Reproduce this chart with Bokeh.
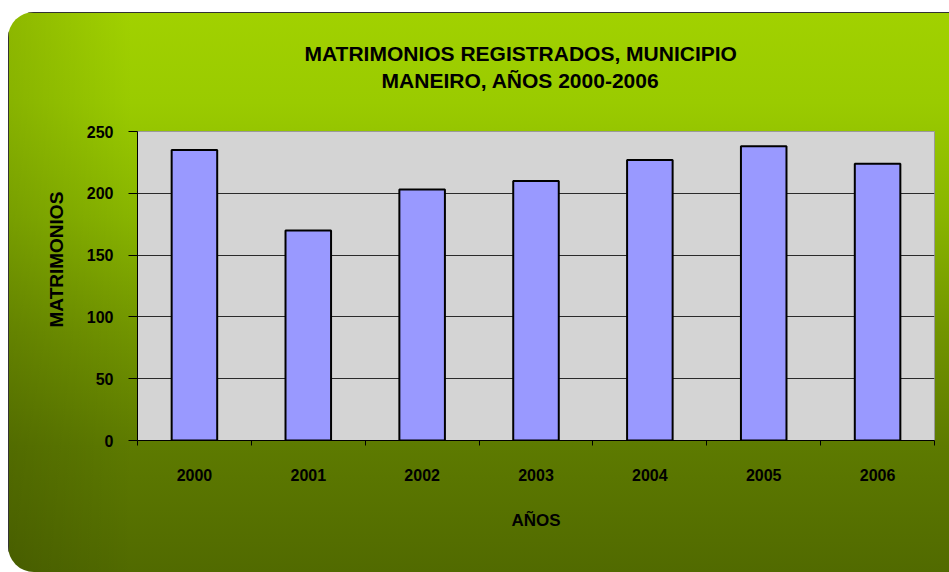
from bokeh.plotting import figure
from bokeh.models import Range1d, FixedTicker, Title, ColumnDataSource, LinearAxis
from bokeh.embed import file_html
from bokeh.resources import INLINE

# ---- data ----
years = ["2000", "2001", "2002", "2003", "2004", "2005", "2006"]
matrimonios = [235, 170, 203, 210, 227, 238, 224]
y_ticks = [0, 50, 100, 150, 200, 250]
title_lines = ["MATRIMONIOS REGISTRADOS, MUNICIPIO", "MANEIRO, AÑOS 2000-2006"]
x_title = "AÑOS"
y_title = "MATRIMONIOS"

n = len(years)
centers = [i + 0.5 for i in range(n)]
bounds = [float(i) for i in range(n + 1)]

p = figure(width=949, height=572, output_backend="svg", toolbar_location=None,
           x_range=Range1d(0, n), y_range=Range1d(0, 250),
           min_border_left=137, min_border_right=15, min_border_top=131, min_border_bottom=132)
p.title.visible = False

p.styles = {
    "background": (
        "linear-gradient(to right, #333 0px, #333 9px, rgba(0,0,0,0) 9px), "
        "linear-gradient(to bottom, #333 0px, #333 13px, rgba(0,0,0,0) 13px), "
        "linear-gradient(to right, rgba(0,0,0,0.13) 0%, rgba(0,0,0,0) 14%), "
        "linear-gradient(to bottom, #a2d200 0%, #9acb00 18%, #88b400 38%, #719400 58%, #5d7a00 78%, #516a00 100%)"
    ),
    "clip-path": "inset(12px 0px 0px 8px round 26px 0px 0px 26px)",
}
p.border_fill_color = None
p.background_fill_color = "#d4d4d4"
p.outline_line_color = "#9a9a9a"
p.outline_line_width = 1

src = ColumnDataSource(dict(x=centers, top=matrimonios, year=years))
p.vbar(x="x", top="top", width=0.4, bottom=0, source=src,
       fill_color="#9999ff", line_color="black", line_width=2)

# grid
p.xgrid.visible = False
p.ygrid.ticker = FixedTicker(ticks=y_ticks)
p.ygrid.grid_line_color = "#2a2a2a"
p.ygrid.grid_line_width = 1

tick_font = "Liberation Sans"

# y axis
yax = p.yaxis[0]
yax.ticker = FixedTicker(ticks=y_ticks)
yax.axis_line_color = "black"
yax.major_tick_line_color = "black"
yax.major_tick_out = 9
yax.major_tick_in = 0
yax.minor_tick_line_color = None
yax.major_label_standoff = 15
yax.major_label_text_font = tick_font
yax.major_label_text_font_style = "bold"
yax.major_label_text_font_size = "16px"
yax.major_label_text_color = "black"

# x axis: labels at centers, tick marks at category boundaries
xax = p.xaxis[0]
xax.ticker = FixedTicker(ticks=centers, minor_ticks=bounds)
xax.major_label_overrides = {c: y for c, y in zip(centers, years)}
xax.axis_line_color = "black"
xax.major_tick_out = 0
xax.major_tick_in = 0
xax.major_tick_line_color = None
xax.minor_tick_line_color = "black"
xax.minor_tick_out = 5
xax.minor_tick_in = 0
xax.major_label_standoff = 23
xax.major_label_text_font = tick_font
xax.major_label_text_font_style = "bold"
xax.major_label_text_font_size = "16px"
xax.major_label_text_color = "black"
xax.axis_label = x_title
xax.axis_label_text_font = tick_font
xax.axis_label_text_font_style = "bold"
xax.axis_label_text_font_size = "17px"
xax.axis_label_text_color = "black"
xax.axis_label_standoff = 27

# y axis title (a left-side title, starting above the frame bottom)
p.add_layout(Title(text=y_title, align="left", offset=113, vertical_align="bottom",
                   standoff=34, text_font=tick_font, text_font_style="bold",
                   text_font_size="19px", text_color="black"), "left")

# chart title, second line: a single label on a bare axis above the frame,
# centred at page x=520 (frame spans 137..934 px for the 0..n range)
title_x = (520 - 137) / (797 / n)
top_ax = LinearAxis(ticker=FixedTicker(ticks=[title_x]),
                    major_label_overrides={title_x: title_lines[1]},
                    axis_line_color=None, major_tick_line_color=None,
                    minor_tick_line_color=None, major_tick_out=0, major_tick_in=0,
                    minor_tick_out=0, major_label_standoff=40,
                    major_label_text_font=tick_font, major_label_text_font_style="bold",
                    major_label_text_font_size="21px", major_label_text_color="black")
p.add_layout(top_ax, "above")

# chart title, first line
p.add_layout(Title(text=title_lines[0], align="left", offset=167, vertical_align="bottom",
                   standoff=2, text_font=tick_font, text_font_style="bold",
                   text_font_size="21px", text_color="black"), "above")

open("out.html", "w").write(file_html(p, INLINE))
